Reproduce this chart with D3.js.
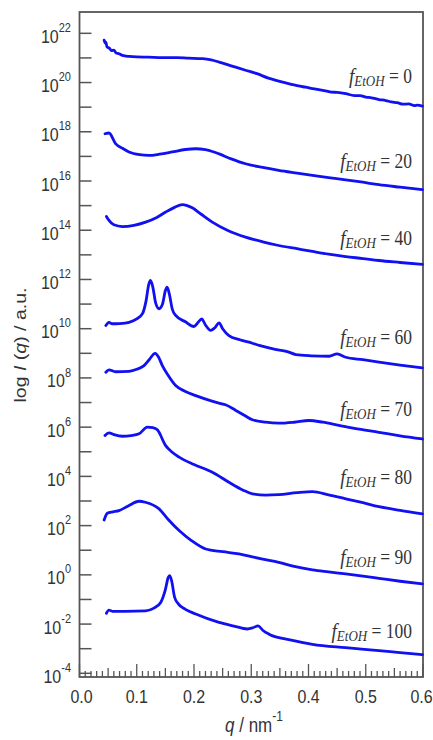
<!DOCTYPE html>
<html>
<head>
<meta charset="utf-8">
<script src="https://cdn.jsdelivr.net/npm/d3@7/dist/d3.min.js"></script>
<style>
body { margin: 0; background: #fff; overflow: hidden; }
</style>
</head>
<body>
<div id="chart"></div>
<script>
var width = 433;
var height = 740;

// log10 I(q), one array per ethanol fraction
var fractions = [0, 20, 40, 60, 70, 80, 90, 100];

var curve0 = [
	[0.043, 21.72], [0.045, 21.60], [0.046, 21.64], [0.048, 21.45], [0.052, 21.40],
	[0.056, 21.30], [0.060, 21.32], [0.064, 21.20], [0.069, 21.17], [0.075, 21.10],
	[0.087, 21.06], [0.100, 21.04], [0.120, 21.03], [0.145, 21.01], [0.170, 21.01],
	[0.190, 20.99], [0.215, 20.97], [0.230, 20.92], [0.244, 20.83], [0.265, 20.68],
	[0.290, 20.50], [0.310, 20.36], [0.330, 20.18], [0.348, 20.06], [0.370, 19.93],
	[0.385, 19.85], [0.395, 19.81], [0.407, 19.75], [0.420, 19.70], [0.430, 19.66],
	[0.440, 19.61], [0.450, 19.60], [0.465, 19.55], [0.480, 19.47], [0.490, 19.47],
	[0.500, 19.41], [0.510, 19.38], [0.523, 19.31], [0.535, 19.27], [0.545, 19.21],
	[0.555, 19.18], [0.565, 19.12], [0.575, 19.13], [0.585, 19.06], [0.590, 19.08],
	[0.599, 19.04]
];

var curve20 = [
	[0.0445, 17.92], [0.0515, 17.95], [0.063, 17.52], [0.075, 17.33], [0.0865, 17.18],
	[0.105, 17.07], [0.121, 17.04], [0.140, 17.09], [0.162, 17.18], [0.185, 17.28],
	[0.203, 17.31], [0.220, 17.27], [0.232, 17.20], [0.244, 17.10], [0.265, 16.90],
	[0.290, 16.70], [0.320, 16.55], [0.348, 16.43], [0.380, 16.32], [0.407, 16.23],
	[0.435, 16.14], [0.465, 16.05], [0.495, 15.95], [0.523, 15.85], [0.560, 15.75],
	[0.599, 15.65]
];

var curve40 = [
	[0.047, 14.56], [0.0515, 14.40], [0.060, 14.22], [0.075, 14.15], [0.095, 14.20],
	[0.1155, 14.33], [0.135, 14.52], [0.1505, 14.74], [0.166, 14.93], [0.1796, 15.04],
	[0.188, 15.00], [0.197, 14.91], [0.212, 14.66], [0.232, 14.33], [0.260, 13.98],
	[0.290, 13.72], [0.320, 13.53], [0.348, 13.38], [0.380, 13.25], [0.407, 13.14],
	[0.435, 13.03], [0.465, 12.93], [0.495, 12.85], [0.523, 12.77], [0.560, 12.69],
	[0.599, 12.61]
];

var curve60 = [
	[0.046, 10.13], [0.0515, 10.26], [0.057, 10.20], [0.070, 10.21], [0.0865, 10.26],
	[0.100, 10.40], [0.110, 10.61], [0.116, 11.10], [0.121, 11.80], [0.124, 11.96],
	[0.128, 11.70], [0.133, 11.05], [0.139, 10.81], [0.145, 11.00], [0.150, 11.55],
	[0.153, 11.69], [0.157, 11.40], [0.162, 10.80], [0.168, 10.54], [0.185, 10.28],
	[0.200, 10.09], [0.207, 10.25], [0.2134, 10.40], [0.220, 10.15], [0.229, 9.93],
	[0.237, 10.05], [0.2437, 10.24], [0.250, 10.00], [0.261, 9.72], [0.280, 9.55],
	[0.302, 9.41], [0.314, 9.32], [0.340, 9.17], [0.363, 9.07], [0.378, 8.95],
	[0.405, 8.90], [0.436, 8.88], [0.450, 8.98], [0.465, 8.84], [0.495, 8.74],
	[0.523, 8.64], [0.560, 8.52], [0.599, 8.41]
];

var curve70 = [
	[0.046, 8.23], [0.0515, 8.33], [0.063, 8.25], [0.0865, 8.27], [0.100, 8.35],
	[0.1127, 8.50], [0.122, 8.75], [0.132, 9.00], [0.138, 8.85], [0.1447, 8.50],
	[0.155, 8.10], [0.168, 7.69], [0.185, 7.45], [0.203, 7.28], [0.230, 7.07],
	[0.245, 6.97], [0.255, 6.91], [0.273, 6.68], [0.290, 6.45], [0.302, 6.30],
	[0.325, 6.20], [0.348, 6.16], [0.375, 6.20], [0.401, 6.27], [0.425, 6.20],
	[0.453, 6.07], [0.480, 5.95], [0.523, 5.79], [0.560, 5.65], [0.599, 5.52]
];

var curve80 = [
	[0.0445, 5.66], [0.0515, 5.77], [0.060, 5.70], [0.075, 5.63], [0.090, 5.66],
	[0.104, 5.73], [0.1185, 6.00], [0.128, 5.98], [0.136, 5.89], [0.1505, 5.25],
	[0.162, 4.98], [0.174, 4.78], [0.200, 4.48], [0.232, 4.17], [0.261, 3.76],
	[0.285, 3.45], [0.302, 3.29], [0.325, 3.24], [0.348, 3.26], [0.380, 3.34],
	[0.407, 3.38], [0.435, 3.25], [0.465, 3.09], [0.495, 2.93], [0.523, 2.77],
	[0.560, 2.62], [0.599, 2.48]
];

var curve90 = [
	[0.043, 2.23], [0.0486, 2.50], [0.058, 2.56], [0.069, 2.61], [0.085, 2.80],
	[0.104, 2.99], [0.115, 2.95], [0.139, 2.68], [0.155, 2.25], [0.174, 1.80],
	[0.195, 1.40], [0.2204, 1.05], [0.250, 0.94], [0.2786, 0.85], [0.300, 0.74],
	[0.320, 0.64], [0.348, 0.51], [0.375, 0.34], [0.407, 0.20], [0.435, 0.12],
	[0.465, 0.04], [0.495, -0.05], [0.523, -0.14], [0.560, -0.26], [0.599, -0.37]
];

var curve100 = [
	[0.047, -1.56], [0.0515, -1.43], [0.057, -1.48], [0.080, -1.48], [0.1156, -1.46],
	[0.130, -1.35], [0.1418, -1.12], [0.150, -0.60], [0.155, -0.10], [0.1575, -0.03],
	[0.161, -0.25], [0.166, -0.90], [0.1726, -1.18], [0.185, -1.40], [0.203, -1.59],
	[0.2437, -1.93], [0.270, -2.08], [0.293, -2.20], [0.303, -2.15], [0.312, -2.07],
	[0.320, -2.25], [0.331, -2.41], [0.370, -2.65], [0.407, -2.82], [0.465, -2.96],
	[0.523, -3.08], [0.560, -3.16], [0.599, -3.24]
];

var curves = [curve0, curve20, curve40, curve60, curve70, curve80, curve90, curve100];

// where each label sits, in log10 units
var labelLevels = [19.98, 16.53, 13.40, 9.38, 6.46, 3.69, 0.44, -2.55];

var xTickValues = [0, 0.1, 0.2, 0.3, 0.4, 0.5, 0.6];
var xTickLabels = ["0.0", "0.1", "0.2", "0.3", "0.4", "0.5", "0.6"];
var yExponents = [-4, -3, -2, -1, 0, 1, 2, 3, 4, 5, 6, 7, 8, 9, 10, 11, 12, 13, 14, 15, 16, 17, 18, 19, 20, 21, 22];
var yLabelExponents = [-4, -2, 0, 2, 4, 6, 8, 10, 12, 14, 16, 18, 20, 22];


var plotLeft = 79.5, plotRight = 423, plotTop = 12, plotBottom = 677;
var stretch = 1.15;   // the source figure is taller than its fonts

var x = d3.scaleLinear().domain([0, 0.6]).range([plotLeft, plotRight]);
var y = d3.scaleLog().domain([Math.pow(10, -4.15), Math.pow(10, 22.866)]).range([plotBottom, plotTop]);

var svg = d3.select("#chart")
	.append("svg")
		.attr("width", width)
		.attr("height", height)
		.style("display", "block")
		.style("font-family", "Liberation Sans, Arial, sans-serif")
	;

var axisColor = "#555";

// y ticks, inward
svg.selectAll("line.ytick")
	.data(yExponents)
	.enter()
	.append("line")
		.attr("class", "ytick")
		.attr("x1", plotLeft)
		.attr("x2", plotLeft + 12)
		.attr("y1", d => y(Math.pow(10, d)))
		.attr("y2", d => y(Math.pow(10, d)))
		.attr("stroke", axisColor)
		.attr("stroke-width", 1.5)
	;

var yLab = svg.selectAll("text.ylab")
	.data(yLabelExponents)
	.enter()
	.append("text")
		.attr("class", "ylab")
		.attr("text-anchor", "end")
		.attr("fill", "#333")
		.attr("transform", d => "translate(71," + (y(Math.pow(10, d)) + 9.5) + ") scale(1," + stretch + ")")
	;
yLab.append("tspan").attr("font-size", 16).text("10");
yLab.append("tspan").attr("font-size", 11).attr("dy", -9.5).text(d => d);

// x ticks: major 0.1, medium 0.05, minor 0.01
var xMinor = d3.range(0, 61).map(i => i / 100);
svg.selectAll("line.xtick")
	.data(xMinor)
	.enter()
	.append("line")
		.attr("class", "xtick")
		.attr("x1", d => x(d))
		.attr("x2", d => x(d))
		.attr("y1", plotBottom)
		.attr("y2", (d, i) => plotBottom - (i % 10 === 0 ? 13 : (i % 5 === 0 ? 9 : 6)))
		.attr("stroke", axisColor)
		.attr("stroke-width", 1.3)
	;

svg.selectAll("text.xlab")
	.data(xTickValues)
	.enter()
	.append("text")
		.attr("class", "xlab")
		.attr("text-anchor", "middle")
		.attr("font-size", 16)
		.attr("fill", "#333")
		.attr("transform", (d, i) => "translate(" + (x(d) + (i === 0 ? 2 : 0) - (i === 6 ? 1.5 : 0)) + ",703) scale(1," + stretch + ")")
		.text((d, i) => xTickLabels[i])
	;

// frame
svg.append("rect")
	.attr("x", plotLeft)
	.attr("y", plotTop)
	.attr("width", plotRight - plotLeft)
	.attr("height", plotBottom - plotTop)
	.attr("fill", "none")
	.attr("stroke", axisColor)
	.attr("stroke-width", 1.8)
	;

// curves
var line = d3.line()
	.x(d => x(d[0]))
	.y(d => y(Math.pow(10, d[1])))
	.curve(d3.curveMonotoneX)
	;

svg.selectAll("path.curve")
	.data(curves)
	.enter()
	.append("path")
		.attr("class", "curve")
		.attr("d", line)
		.attr("fill", "none")
		.attr("stroke", "#1010f0")
		.attr("stroke-width", 2.8)
		.attr("stroke-linejoin", "round")
		.attr("stroke-linecap", "round")
	;

// f_EtOH labels
var lab = svg.selectAll("text.flab")
	.data(fractions)
	.enter()
	.append("text")
		.attr("class", "flab")
		.attr("text-anchor", "end")
		.attr("fill", "#333")
		.style("font-family", "Liberation Serif, Times New Roman, serif")
		.attr("transform", (d, i) => "translate(412," + y(Math.pow(10, labelLevels[i])) + ") scale(1," + stretch + ")")
	;
lab.append("tspan").attr("font-size", 19).attr("font-style", "italic").text("f");
lab.append("tspan").attr("font-size", 13).attr("font-style", "italic").attr("dy", 3).text("EtOH");
lab.append("tspan").attr("font-size", 17.5).attr("dy", -3).text(d => "\u00a0=\u00a0" + d);

// axis titles
var yt = svg.append("text")
	.attr("text-anchor", "middle")
	.attr("font-size", 17)
	.attr("fill", "#333")
	.attr("transform", "translate(26,345) rotate(-90) scale(" + stretch + ",1)")
	;
yt.append("tspan").text("log ");
yt.append("tspan").attr("font-style", "italic").text("I");
yt.append("tspan").text(" (");
yt.append("tspan").attr("font-style", "italic").text("q");
yt.append("tspan").text(") / a.u.");

var xt = svg.append("text")
	.attr("text-anchor", "middle")
	.attr("font-size", 17)
	.attr("fill", "#333")
	.attr("transform", "translate(254,732) scale(1," + stretch + ")")
	;
xt.append("tspan").attr("font-style", "italic").text("q");
xt.append("tspan").text(" / nm");
xt.append("tspan").attr("font-size", 12).attr("dy", -10).text("-1");
</script>
</body>
</html>
